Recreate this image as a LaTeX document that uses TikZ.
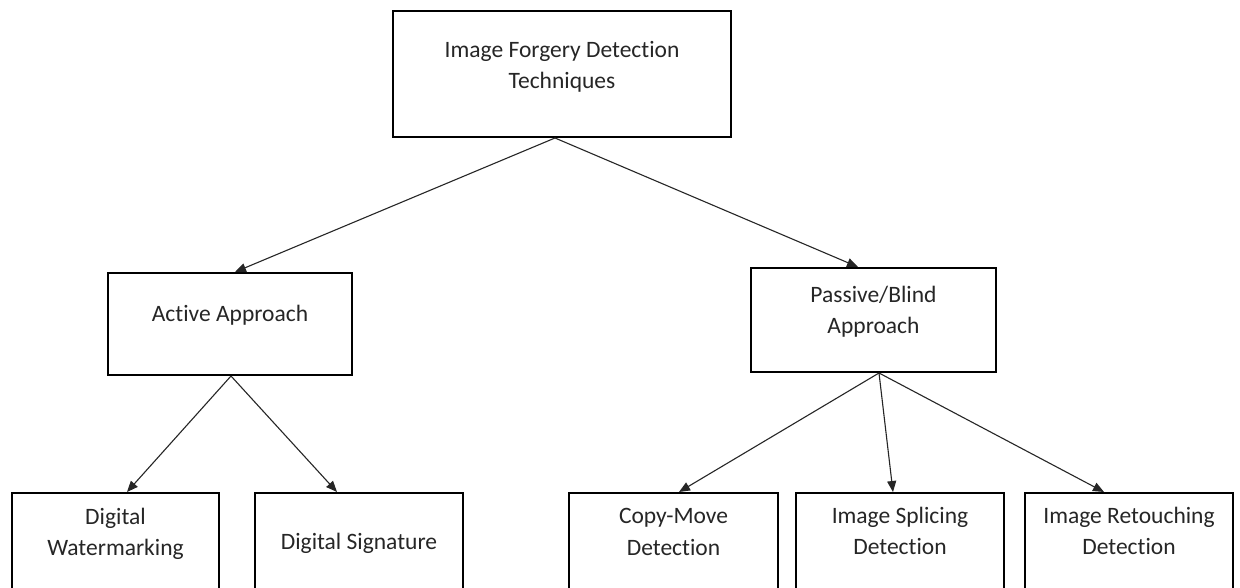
\documentclass[tikz,border=0pt]{standalone}
\usepackage{fontspec}
\setmainfont{Carlito}[Ligatures=NoCommon]
\usetikzlibrary{arrows.meta,calc}
\definecolor{inkgray}{HTML}{262626}
\begin{document}
\begin{tikzpicture}[x=1pt,y=-1pt,
  box/.style={draw=black,line width=2pt,fill=white,inner sep=0pt},
  lbl/.style={font=\fontsize{23.5}{31.5}\selectfont,text=inkgray,align=center,inner sep=0pt},
  conn/.style={draw=black!85,line width=1.1pt,-{Triangle[length=11pt,width=9pt]}}]
  \useasboundingbox (0,0) rectangle (1240,588);
  \clip (0,0) rectangle (1240,588);
  \fill[white] (0,0) rectangle (1240,588);

  % root and second level
  \node[box,minimum width=338pt,minimum height=126pt] (top) at (562,74) {};
  \node[box,minimum width=244pt,minimum height=102pt] (act) at (230,324) {};
  \node[box,minimum width=245pt,minimum height=104pt] (pas) at (873.5,320) {};

  % leaves (running past the lower edge)
  \node[box,minimum width=207pt,minimum height=110pt] (dw) at (115.5,548) {};
  \node[box,minimum width=208pt,minimum height=110pt] (ds) at (359,548) {};
  \node[box,minimum width=209pt,minimum height=110pt] (cm) at (673.5,548) {};
  \node[box,minimum width=208pt,minimum height=110pt] (is) at (900,548) {};
  \node[box,minimum width=208pt,minimum height=110pt] (ir) at (1129,548) {};

  % labels
  \node[lbl] (topT) at (562,67) {Image Forgery Detection\\Techniques};
  \node[lbl] (actT) at (230,315) {Active Approach};
  \node[lbl] (pasT) at (873.5,311.5) {Passive/Blind\\Approach};
  \node[lbl] (dwT) at (115.5,534) {Digital\\Watermarking};
  \node[lbl] (dsT) at (359,543) {Digital Signature};
  \node[lbl] (cmT) at (673.5,532) {Copy-Move\\Detection};
  \node[lbl] (isT) at (900,531) {Image Splicing\\Detection};
  \node[lbl] (irT) at (1129,531) {Image Retouching\\Detection};

  % connectors
  \draw[conn] ([xshift=-7pt]top.south) -- ([xshift=5pt]act.north);
  \draw[conn] ([xshift=-7pt]top.south) -- ([xshift=-15.5pt]pas.north);
  \draw[conn] ([xshift=1pt]act.south) -- ([xshift=11.5pt]dw.north);
  \draw[conn] ([xshift=1pt]act.south) -- ([xshift=-22pt]ds.north);
  \draw[conn] ([xshift=5.5pt]pas.south) -- ([xshift=5.5pt]cm.north);
  \draw[conn] ([xshift=5.5pt]pas.south) -- ([xshift=-7pt]is.north);
  \draw[conn] ([xshift=5.5pt]pas.south) -- ([xshift=-25pt]ir.north);
\end{tikzpicture}
\end{document}
